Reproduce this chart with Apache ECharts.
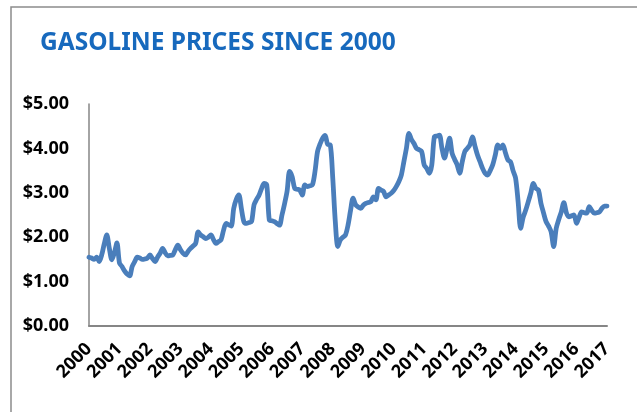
<!DOCTYPE html>
<html>
<head>
<meta charset="utf-8">
<script src="https://cdn.jsdelivr.net/npm/echarts@6/dist/echarts.min.js"></script>
<style>
  html, body { margin: 0; padding: 0; background: #fff; }
  #chart { width: 637px; height: 412px; }
</style>
</head>
<body>
<div id="chart"></div>
<script>
// years shown on the x axis (one label per January)
const years = ['2000', '2001', '2002', '2003', '2004', '2005', '2006', '2007', '2008',
  '2009', '2010', '2011', '2012', '2013', '2014', '2015', '2016', '2017']

// monthly prices ($/gal), Jan 2000 .. Jan 2017
const p2000 = [1.55, 1.53, 1.50, 1.55, 1.45, 1.60, 1.85, 2.05, 1.75, 1.49, 1.65, 1.87]
const p2001 = [1.42, 1.34, 1.24, 1.17, 1.13, 1.34, 1.45, 1.55, 1.53, 1.50, 1.51, 1.53]
const p2002 = [1.60, 1.52, 1.45, 1.55, 1.64, 1.75, 1.65, 1.58, 1.59, 1.60, 1.72, 1.82]
const p2003 = [1.72, 1.64, 1.60, 1.68, 1.75, 1.80, 1.86, 2.12, 2.05, 2.01, 1.97, 2.00]
const p2004 = [2.05, 1.95, 1.86, 1.90, 1.94, 2.16, 2.31, 2.28, 2.25, 2.65, 2.85, 2.95]
const p2005 = [2.65, 2.35, 2.31, 2.33, 2.35, 2.73, 2.85, 2.95, 3.10, 3.21, 3.18, 2.39]
const p2006 = [2.37, 2.35, 2.31, 2.27, 2.50, 2.75, 3.03, 3.48, 3.36, 3.10, 3.08, 3.06]
const p2007 = [2.95, 3.18, 3.14, 3.16, 3.18, 3.48, 3.93, 4.10, 4.23, 4.29, 4.09, 4.08]
const p2008 = [3.33, 2.35, 1.79, 1.94, 2.00, 2.05, 2.27, 2.60, 2.88, 2.73, 2.68, 2.65]
const p2009 = [2.72, 2.76, 2.78, 2.80, 2.91, 2.84, 3.10, 3.06, 3.03, 2.91, 2.95, 2.99]
const p2010 = [3.05, 3.14, 3.25, 3.40, 3.70, 4.00, 4.34, 4.20, 4.11, 4.00, 3.97, 3.93]
const p2011 = [3.63, 3.55, 3.44, 3.63, 4.26, 4.28, 4.30, 4.00, 3.78, 4.00, 4.23, 3.89]
const p2012 = [3.75, 3.63, 3.44, 3.70, 3.93, 4.00, 4.08, 4.26, 4.05, 3.85, 3.70, 3.55]
const p2013 = [3.44, 3.40, 3.50, 3.63, 3.85, 4.08, 4.00, 4.08, 3.90, 3.74, 3.70, 3.50]
const p2014 = [3.33, 2.80, 2.20, 2.45, 2.61, 2.80, 3.00, 3.21, 3.10, 3.06, 2.76, 2.55]
const p2015 = [2.35, 2.25, 2.12, 1.79, 2.20, 2.40, 2.57, 2.78, 2.55, 2.46, 2.48, 2.50]
const p2016 = [2.31, 2.45, 2.57, 2.55, 2.54, 2.69, 2.60, 2.54, 2.55, 2.57, 2.65, 2.70]
const p2017 = [2.70]

const prices = [].concat(p2000, p2001, p2002, p2003, p2004, p2005, p2006, p2007, p2008,
  p2009, p2010, p2011, p2012, p2013, p2014, p2015, p2016, p2017)

const yTicks = ['$0.00', '$1.00', '$2.00', '$3.00', '$4.00', '$5.00']

// one category per month; the year label sits on each January
const months = prices.map((_, i) => years[Math.floor(i / 12)] + '-' + String(i % 12 + 1).padStart(2, '0'))

const chart = echarts.init(document.getElementById('chart'), null, { renderer: 'canvas' })

chart.setOption({
  animation: false,
  backgroundColor: '#fff',
  graphic: [
    {
      type: 'rect',
      shape: { x: 11, y: 7, width: 700, height: 500 },
      style: { fill: 'none', stroke: '#8c8c8c', lineWidth: 1.5 },
      silent: true,
    },
  ],
  title: {
    text: 'GASOLINE PRICES SINCE 2000',
    left: 35,
    top: 26,
    textStyle: {
      color: '#1769bd',
      fontFamily: 'Noto Sans',
      fontWeight: 'bold',
      fontSize: 24.5,
    },
  },
  grid: { left: 89, right: 30, top: 104, bottom: 86, containLabel: false },
  xAxis: {
    type: 'category',
    data: months,
    boundaryGap: false,
    axisLine: { lineStyle: { color: '#868686', width: 2 } },
    axisTick: { show: false },
    splitLine: { show: false },
    axisLabel: {
      interval: (i) => i % 12 === 0,
      rotate: 45,
      margin: 20,
      color: '#000',
      fontFamily: 'Noto Sans',
      fontWeight: 'bold',
      fontSize: 18,
      formatter: (v) => v.slice(0, 4),
    },
  },
  yAxis: {
    type: 'value',
    min: 0,
    max: 5,
    interval: 1,
    axisLine: { show: true, lineStyle: { color: '#868686', width: 1.5 } },
    axisTick: { show: false },
    splitLine: { show: false },
    axisLabel: {
      margin: 20,
      color: '#000',
      fontFamily: 'Noto Sans',
      fontWeight: 'bold',
      fontSize: 18,
      formatter: (v) => yTicks[Math.round(v)],
    },
  },
  series: [
    {
      type: 'line',
      data: prices,
      smooth: 0.3,
      showSymbol: false,
      lineStyle: { color: '#4a7ebb', width: 4.8, cap: 'round', join: 'round' },
    },
  ],
})
</script>
</body>
</html>
